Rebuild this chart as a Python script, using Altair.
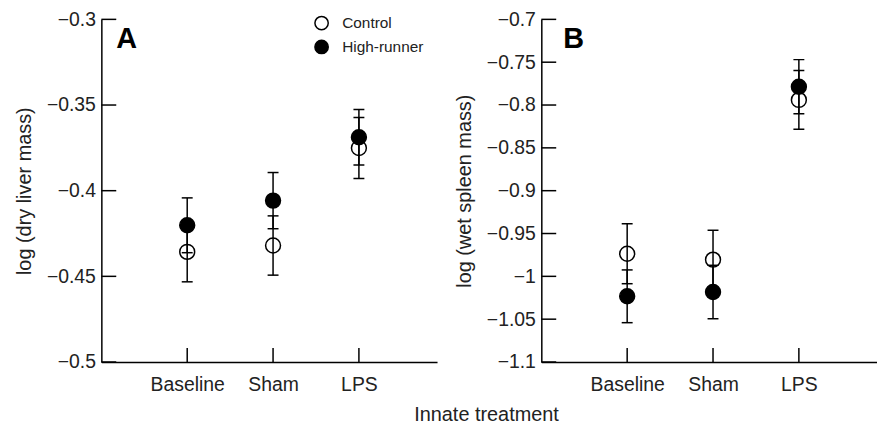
import altair as alt
import pandas as pd

categories = ["Baseline", "Sham", "LPS"]
x_positions = [1, 2, 3]
groups = ["Control", "High-runner"]

liver_control_mean = [-0.4357, -0.4320, -0.3751]
liver_control_se = [0.0175, 0.0173, 0.0178]
liver_hr_mean = [-0.4202, -0.4058, -0.3688]
liver_hr_se = [0.0160, 0.0164, 0.0162]

spleen_control_mean = [-0.9736, -0.9805, -0.7940]
spleen_control_se = [0.0350, 0.0343, 0.0343]
spleen_hr_mean = [-1.0233, -1.0183, -0.7786]
spleen_hr_se = [0.0308, 0.0312, 0.0316]

liver_ticks = [-0.5, -0.45, -0.4, -0.35, -0.3]
spleen_ticks = [-1.1, -1.05, -1.0, -0.95, -0.9, -0.85, -0.8, -0.75, -0.7]

W, H = 338, 345
FONT = "Liberation Sans"
INK = "#222222"


def make_df(cm, cs, hm, hs):
    rows = []
    for g, m, s in (("Control", cm, cs), ("High-runner", hm, hs)):
        for i, c in enumerate(categories):
            rows.append(dict(cat=c, xpos=x_positions[i], group=g, mean=m[i],
                             lo=m[i] - s[i], hi=m[i] + s[i]))
    return pd.DataFrame(rows)


label_expr = "[" + ",".join("'%s'" % c for c in [""] + categories) + "][datum.value]"


def panel(df, ticks, ytitle, letter, letter_x, show_legend):
    xs = alt.Scale(domain=[0, 3.91], nice=False, zero=False)
    ys = alt.Scale(domain=[min(ticks), max(ticks)], nice=False, zero=False)
    xaxis = alt.Axis(values=x_positions, labelExpr=label_expr, ticks=False, grid=False,
                     labelPadding=14, labelAngle=0, title=None, domainColor="black",
                     domainWidth=1.5, labelFontSize=19.5, labelColor=INK, labelFont=FONT)
    yaxis = alt.Axis(values=ticks, format=".2~f", ticks=False, grid=False, labelPadding=6,
                     title=ytitle, titlePadding=12, titleFontSize=20, titleFontWeight="normal",
                     domainColor="black", domainWidth=1.5, labelFontSize=19.5,
                     labelColor=INK, titleColor=INK, labelFont=FONT, titleFont=FONT)

    ytick = alt.Chart(pd.DataFrame({"tick": ticks})).mark_rule(
        color="black", strokeWidth=1.5).encode(
        y=alt.Y("tick:Q", scale=ys, axis=yaxis),
        x=alt.value(0), x2=alt.value(15))
    xtick = alt.Chart(pd.DataFrame({"xpos": x_positions})).mark_rule(
        color="black", strokeWidth=1.5).encode(
        x=alt.X("xpos:Q", scale=xs, axis=xaxis),
        y=alt.value(H - 14), y2=alt.value(H))

    if show_legend:
        legend = alt.Legend(title=None, orient="none", legendX=214, legendY=-4,
                            labelFontSize=15.5, labelFont=FONT, labelColor=INK,
                            symbolType="circle", symbolSize=180,
                            symbolStrokeColor="black", symbolStrokeWidth=1.5,
                            labelOffset=13, rowPadding=4, padding=0)
    else:
        legend = None

    base = alt.Chart(df)
    points = base.mark_point(shape="circle", filled=True, size=225, stroke="black",
                             strokeWidth=1.5, opacity=1).encode(
        x=alt.X("xpos:Q", scale=xs, axis=xaxis),
        y=alt.Y("mean:Q", scale=ys, axis=yaxis),
        fill=alt.Fill("group:N", scale=alt.Scale(domain=groups, range=["white", "black"]),
                      legend=legend))
    bars = base.mark_rule(color="black", strokeWidth=1.5).encode(
        x=alt.X("xpos:Q", scale=xs, axis=xaxis),
        y=alt.Y("lo:Q", scale=ys, axis=yaxis), y2="hi:Q")
    cap_lo = base.mark_tick(orient="horizontal", size=11, thickness=1.5, color="black",
                            opacity=1).encode(
        x=alt.X("xpos:Q", scale=xs, axis=xaxis),
        y=alt.Y("lo:Q", scale=ys, axis=yaxis))
    cap_hi = base.mark_tick(orient="horizontal", size=11, thickness=1.5, color="black",
                            opacity=1).encode(
        x=alt.X("xpos:Q", scale=xs, axis=xaxis),
        y=alt.Y("hi:Q", scale=ys, axis=yaxis))
    letter_layer = alt.Chart(pd.DataFrame({"t": [letter]})).mark_text(
        fontSize=29, fontWeight="bold", font=FONT, align="left", baseline="alphabetic",
        color="black").encode(text="t:N", x=alt.value(letter_x), y=alt.value(29))

    return alt.layer(ytick, xtick, points, bars, cap_lo, cap_hi, letter_layer).properties(
        width=W, height=H)


dfA = make_df(liver_control_mean, liver_control_se, liver_hr_mean, liver_hr_se)
dfB = make_df(spleen_control_mean, spleen_control_se, spleen_hr_mean, spleen_hr_se)

A = panel(dfA, liver_ticks, "log (dry liver mass)", "A", 15, True)
B = panel(dfB, spleen_ticks, "log (wet spleen mass)", "B", 22, False)

chart = alt.hconcat(A, B, spacing=17).resolve_scale(fill="independent").properties(
    padding={"left": 6, "top": 0, "right": 0, "bottom": 0},
    title=alt.TitleParams("Innate treatment", orient="bottom", anchor="middle", fontSize=20,
                          fontWeight="normal", font=FONT, color=INK, dx=41, offset=11),
).configure_view(stroke=None)

chart.save("out.html", embed_options={"renderer": "svg", "actions": False})
